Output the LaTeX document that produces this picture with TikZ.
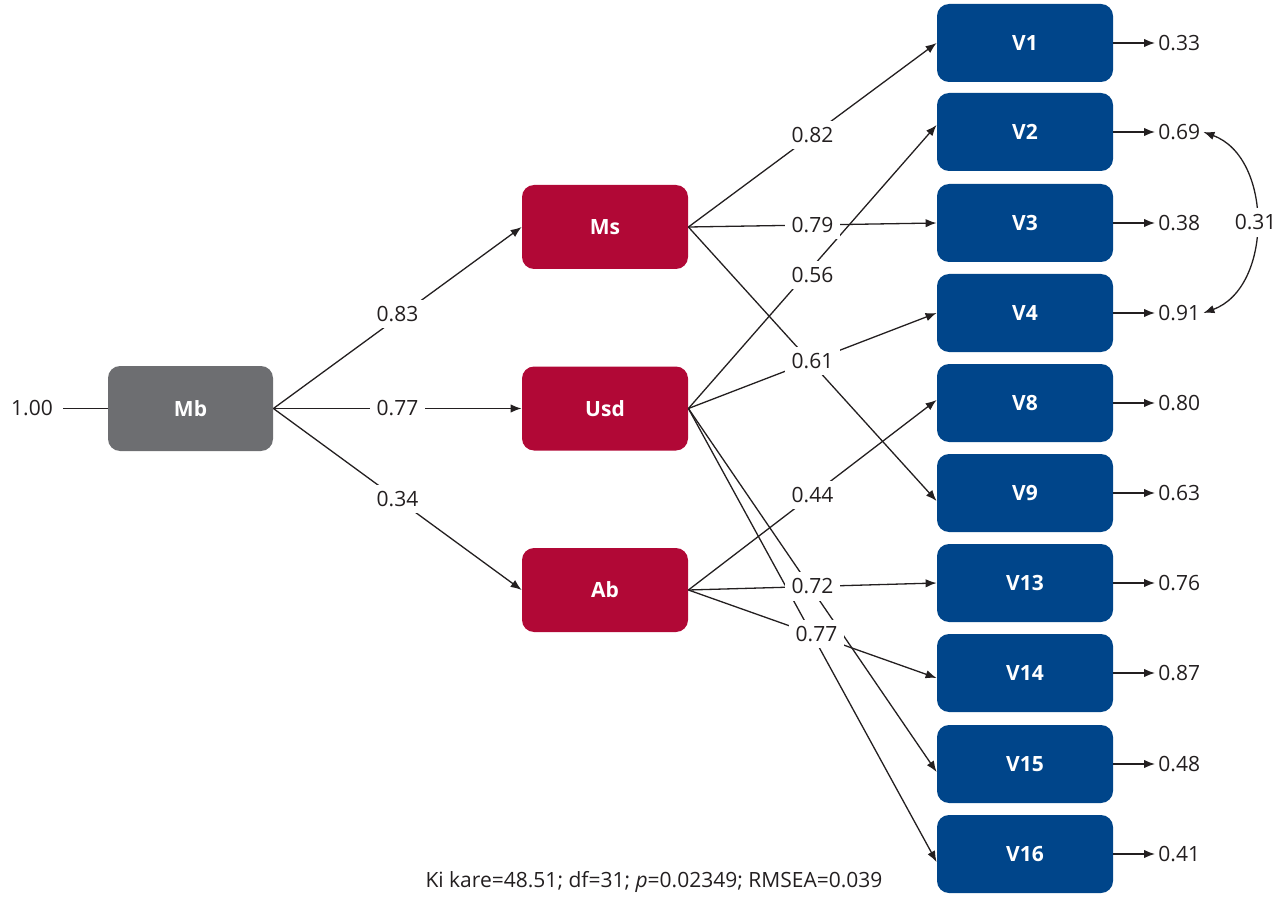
\documentclass[tikz,border=0pt]{standalone}
\usepackage{fontspec}
\setmainfont{Open Sans}
\usetikzlibrary{arrows.meta}
\definecolor{mbgray}{HTML}{6D6E71}
\definecolor{lvred}{HTML}{B10836}
\definecolor{vblue}{HTML}{00458A}
\definecolor{ink}{HTML}{231F20}
\begin{document}
\begin{tikzpicture}[x=0.5pt,y=-0.5pt,
  font=\fontsize{10.5}{12}\selectfont, text=ink,
  box/.style={rounded corners=6pt, text=white, font=\fontsize{10.5}{12}\selectfont\bfseries, inner sep=0pt},
  mbbox/.style={box, fill=mbgray, minimum width=82.5pt, minimum height=42.5pt},
  lvbox/.style={box, fill=lvred, minimum width=83pt, minimum height=42pt},
  vbox/.style={box, fill=vblue, minimum width=88pt, minimum height=39pt},
  arr/.style={draw=ink, line width=0.65pt, -{Latex[length=5.5pt,width=4.2pt]}},
  plain/.style={draw=ink, line width=0.65pt},
  lbl/.style={fill=white, inner sep=3.2pt},
  err/.style={anchor=west, inner xsep=1.5pt, inner ysep=0pt}
]
\useasboundingbox (0,0) rectangle (1287,899);

% latent and observed boxes
\node[mbbox] (Mb) at (190.5,408.5) {Mb};
\node[lvbox] (Ms) at (605,227) {Ms};
\node[lvbox] (Usd) at (605,408.5) {Usd};
\node[lvbox] (Ab) at (605,590) {Ab};

\node[vbox] (V1) at (1025,43) {V1};
\node[vbox] (V2) at (1025,132) {V2};
\node[vbox] (V3) at (1025,223) {V3};
\node[vbox] (V4) at (1025,313) {V4};
\node[vbox] (V8) at (1025,403) {V8};
\node[vbox] (V9) at (1025,493) {V9};
\node[vbox] (V13) at (1025,583) {V13};
\node[vbox] (V14) at (1025,673) {V14};
\node[vbox] (V15) at (1025,764) {V15};
\node[vbox] (V16) at (1025,854) {V16};

% error terms
\node[err] (e1) at (1155,43) {0.33};
\node[err] (e2) at (1155,132) {0.69};
\node[err] (e3) at (1155,223) {0.38};
\node[err] (e4) at (1155,313) {0.91};
\node[err] (e8) at (1155,403) {0.80};
\node[err] (e9) at (1155,493) {0.63};
\node[err] (e13) at (1155,583) {0.76};
\node[err] (e14) at (1155,673) {0.87};
\node[err] (e15) at (1155,764) {0.48};
\node[err] (e16) at (1155,854) {0.41};

\foreach \v/\e in {V1/e1,V2/e2,V3/e3,V4/e4,V8/e8,V9/e9,V13/e13,V14/e14,V15/e15,V16/e16}
  \draw[arr] (\v.east) -- (\e.west);

% input to Mb
\node[inner xsep=5pt] (one) at (32,408.5) {1.00};
\draw[plain] (one.east) -- (Mb.west);

% Mb paths
\draw[arr] (Mb.east) -- coordinate[pos=0.5] (a1) (Ms.west);
\draw[arr] (Mb.east) -- coordinate[pos=0.5] (a2) (Usd.west);
\draw[arr] (Mb.east) -- coordinate[pos=0.5] (a3) (Ab.west);

% Ms paths
\draw[arr] (Ms.east) -- coordinate[pos=0.5] (b1) (V1.west);
\draw[arr] (Ms.east) -- coordinate[pos=0.5] (b2) (V3.west);
\draw[arr] (Ms.east) -- ([yshift=-4pt]V9.west);

% Usd paths
\draw[arr] (Usd.east) -- coordinate[pos=0.5] (c1) ([yshift=3.5pt]V2.west);
\draw[arr] (Usd.east) -- coordinate[pos=0.5] (c2) (V4.west);
\draw[arr] (Usd.east) -- ([yshift=-4pt]V15.west);
\draw[arr] (Usd.east) -- ([yshift=-4pt]V16.west);

% Ab paths
\draw[arr] (Ab.east) -- coordinate[pos=0.5] (d1) ([yshift=1.5pt]V8.west);
\draw[arr] (Ab.east) -- coordinate[pos=0.5] (d2) (V13.west);
\draw[arr] (Ab.east) -- coordinate[pos=0.5] (d3) ([yshift=-2.5pt]V14.west);

% correlated errors
\draw[line width=0.65pt, draw=ink, {Latex[length=5.5pt,width=4.2pt]}-{Latex[length=5.5pt,width=4.2pt]}]
  (e2.east) to[out=-20,in=20,looseness=1.05] coordinate[pos=0.5] (k) (e4.east);

% labels
\node[lbl] at ([yshift=2pt]a1) {0.83};
\node[lbl] at (a2) {0.77};
\node[lbl] at (a3) {0.34};
\node[lbl] at (b1) {0.82};
\node[lbl] at (b2) {0.79};
\node[lbl] at ([yshift=-4pt]c1) {0.56};
\node[lbl] at (c2) {0.61};
\node[lbl] at (d1) {0.44};
\node[lbl] at (d2) {0.72};
\node[lbl] at ([xshift=2pt]d3) {0.77};
\node[lbl] at (k) {0.31};

% footer
\node (fit) at (654,882) {Ki kare=48.51; df=31; \textit{p}=0.02349; RMSEA=0.039};
\end{tikzpicture}
\end{document}
